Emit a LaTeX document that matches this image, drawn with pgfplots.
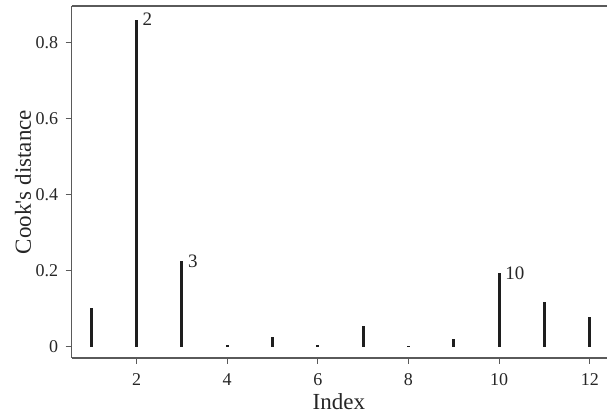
\documentclass[border=0pt]{standalone}
\usepackage{fontspec}
\setmainfont{Liberation Serif}
\usepackage{pgfplots}
\pgfplotsset{compat=1.18}
\usetikzlibrary{calc}
\definecolor{axgray}{HTML}{5A5A5A}
\definecolor{barcol}{HTML}{1E1E1E}
\begin{document}
\begin{tikzpicture}
\begin{axis}[name=ax, scale only axis, width=535.3pt, height=352pt,
  xmin=0.57, xmax=12.38, ymin=-0.029, ymax=0.897,
  axis x line*=box, axis y line*=left,
  axis line style={axgray, line width=1.2pt, -},
  xtick={2,4,6,8,10,12}, ytick={0,0.2,0.4,0.6,0.8},
  xtick pos=bottom, ytick pos=left,
  tick align=outside, major tick length=6pt,
  tick style={axgray, line width=1pt},
  /pgf/number format/assume math mode=true,
  ticklabel style={font=\fontsize{18}{18}\selectfont, text=black!85},
  xticklabel style={yshift=-6pt},
  yticklabel style={xshift=-4pt},
  xlabel={Index}, ylabel={Cook\textquotesingle s distance},
  label style={font=\fontsize{23}{23}\selectfont, text=black!85},
  xlabel style={at={(axis description cs:0.499,-0.125)}, anchor=center},
  ylabel style={at={(axis description cs:-0.091,0.5)}, anchor=center, rotate=0},
  clip=false,
]
\addplot[ycomb, barcol, line width=3pt, mark=none] table {
x y
1 0.103
2 0.861
3 0.226
4 0.004
5 0.027
6 0.006
7 0.056
8 0.002
9 0.020
10 0.194
11 0.118
12 0.080
};
\addplot[draw=none, mark=none, nodes near coords, point meta=explicit symbolic,
  nodes near coords style={anchor=west, inner sep=0pt, xshift=6pt,
  font=\fontsize{19}{19}\selectfont, text=black!85}] table[meta=lab] {
x y lab
2 0.861 2
3 0.226 3
10 0.194 10
};
\end{axis}
\pgfresetboundingbox
\path ($(ax.south west)+(-71.7pt,-56pt)$) rectangle +(607pt,414pt);
\end{tikzpicture}
\end{document}
